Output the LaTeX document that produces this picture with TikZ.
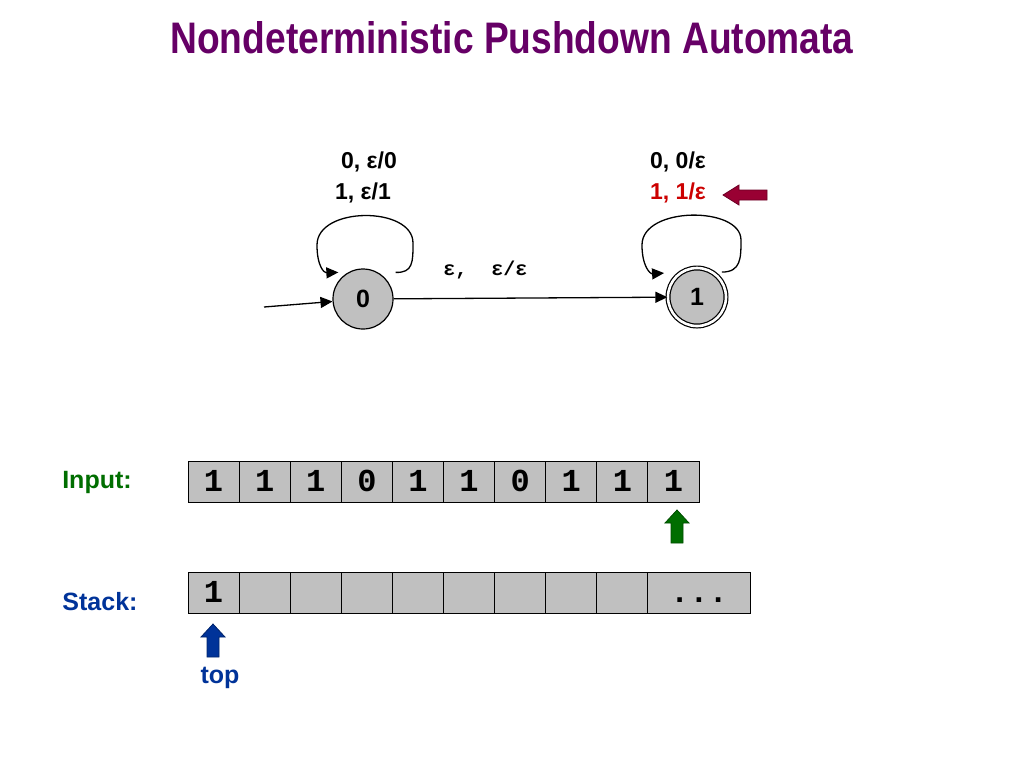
\documentclass[tikz,border=0pt]{standalone}
\usepackage{fontspec}
\setmainfont{Liberation Sans}
\setmonofont{Liberation Mono}
\usetikzlibrary{arrows.meta,positioning}
\definecolor{titlepurple}{RGB}{102,0,102}
\definecolor{inputgreen}{RGB}{0,110,0}
\definecolor{stackblue}{RGB}{0,51,153}
\definecolor{popred}{RGB}{204,0,0}
\definecolor{markred}{RGB}{153,0,51}
\definecolor{cellgray}{RGB}{192,192,192}
\tikzset{
  state/.style={circle,draw,line width=0.6pt,fill=cellgray,minimum size=30pt,inner sep=0pt,font=\fontsize{12.5}{14}\selectfont\bfseries},
  accepting/.style={double,double distance=1.3pt,minimum size=29pt},
  trans/.style={line width=0.65pt,-{Triangle[length=6pt,width=5.5pt]}},
  lbl/.style={font=\fontsize{11.5}{13}\selectfont\bfseries},
  side/.style={font=\fontsize{12.5}{14}\selectfont\bfseries},
  cell/.style={draw,line width=0.5pt,fill=cellgray,minimum width=25.55pt,minimum height=20.5pt,inner sep=0pt,
    text height=9.6pt,text depth=0pt,font=\fontsize{16}{18}\selectfont\ttfamily\bfseries},
  uparrow/.pic={\filldraw[pic actions] (-6,0) -- (-6,-20) -- (-12,-20) -- (0,-33) -- (12,-20) -- (6,-20) -- (6,0) -- cycle;},
  leftarrow/.pic={\filldraw[pic actions] (0,-5) -- (-28,-5) -- (-28,-10) -- (-44,0) -- (-28,10) -- (-28,5) -- (0,5) -- cycle;}
}
\begin{document}
\begin{tikzpicture}[x=0.5pt,y=-0.5pt]
  \useasboundingbox (0,0) rectangle (1024,768);
  \node[anchor=base,text=titlepurple] (title) at (512,53)
    {\resizebox{341.5pt}{16pt}{\bfseries Nondeterministic Pushdown Automata}};
  %% states
  \node[state] (s0) at (363,299) {0};
  \node[state,accepting] (s1) at (697,297) {1};
  \coordinate (init) at (264,307);
  \draw[trans] (init) -- (s0);
  \draw[trans] (s0) -- (s1) node[pos=0.335,above=6pt,font=\fontsize{10}{12}\selectfont\ttfamily\bfseries] (eps) {ε,\ \ ε/ε};
  %% loops
  \draw[trans] ([shift={(11,-5)}]s0.45) .. controls (413,273) and (413,262) .. (413,243)
    .. controls (413,206) and (317,206) .. (317,245) .. controls (317,266) and (324,273) .. ([shift={(-3,-5)}]s0.135);
  \draw[trans] ([shift={(4,-4)}]s1.45) .. controls (741,272) and (741,258) .. (741,240)
    .. controls (741,206) and (642,206) .. (642,245) .. controls (642,266) and (650,274) .. ([shift={(-12,-3)}]s1.135);
  \node[lbl] (push0) at (369,162) {0, ε/0};
  \node[lbl] (push1) at (363,193) {1, ε/1};
  \node[lbl] (pop0) at (678,162) {0, 0/ε};
  \node[lbl,text=popred] (pop1) at (678,193) {1, 1/ε};
  \pic[fill=markred,draw=markred!70!black,line width=0.4pt] (mark) at (767,195) {leftarrow};
  %% input tape
  \node[side,text=inputgreen] (inlbl) at (97,482) {Input:};
  \foreach \d [count=\i] in {1,1,1,0,1,1,0,1,1,1}
    \node[cell] (in\i) at ({162.45+51.1*\i},481.5) {\d};
  \pic[fill=inputgreen,draw=inputgreen!70!black,line width=0.4pt] (head) at (677,543) {uparrow};
  %% stack
  \node[side,text=stackblue] (stlbl) at (100,602) {Stack:};
  \node[cell] (st1) at (213.55,592.5) {1};
  \foreach \i in {2,...,9}
    \node[cell] (st\i) at ({162.45+51.1*\i},592.5) {};
  \node[cell,minimum width=51.1pt] (st10) at (699,592.5) {...};
  \pic[fill=stackblue,draw=stackblue!70!black,line width=0.4pt] (topptr) at (213,657) {uparrow};
  \node[side,text=stackblue] (toplbl) at (220,678) {top};
\end{tikzpicture}
\end{document}
